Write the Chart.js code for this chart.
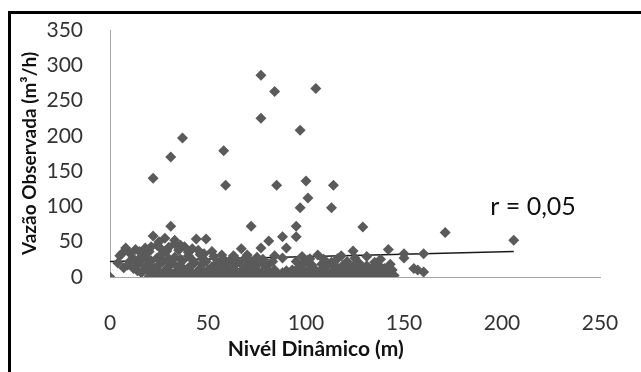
<!DOCTYPE html>
<html>
<head>
<meta charset="utf-8">
<script src="https://cdn.jsdelivr.net/npm/chart.js@4.4.1/dist/chart.umd.min.js"></script>
<style>
  html, body { margin: 0; padding: 0; background: #fff; }
  #wrap { position: relative; width: 641px; height: 372px; overflow: hidden; }
  #frame { position: absolute; left: 8px; top: 11px; width: 640px; height: 370px;
           border-top: 3px solid #000; border-left: 3px solid #000; }
  #chart { position: absolute; left: 0; top: 0; }
</style>
</head>
<body>
<div id="wrap">
  <div id="frame"></div>
  <canvas id="chart" width="641" height="372"></canvas>
</div>
<script>
// Nível dinâmico (m) e vazão observada (m³/h)
const nivel = [
  // pontos altos
  77, 84, 105, 77, 97, 37, 31, 58, 22, 59, 85, 100, 114, 101, 97, 113,
  31, 72, 95, 129, 171, 206,
  // faixa 35-60
  22, 28, 25, 44, 49, 81, 88, 95, 8, 13, 18, 24, 38, 67, 77, 90,
  124, 142, 150, 160, 131, 150, 57, 101, 110, 33, 30, 35, 42, 20, 27,
  10, 15, 21, 26, 29, 33, 36, 40, 45, 48, 52, 17, 6,
  // faixa ~30
  5, 16, 26, 33, 40, 46, 53, 63, 70, 75, 84, 98, 106, 118,
  // faixa ~26
  12, 19, 24, 30, 36, 41, 47, 58, 64, 69, 78, 88, 102, 109, 116, 125, 138,
  // faixa ~20
  4, 10, 15, 21, 27, 32, 37, 43, 49, 55, 61, 66, 72, 78, 83, 95, 99, 113, 121, 127, 135,
  // faixa ~17
  9, 14, 20, 25, 31, 36, 42, 47, 53, 59, 64, 70, 75, 81, 98, 103, 108, 114, 119, 125, 131, 137, 143,
  // faixa ~12
  7, 12, 18, 23, 29, 35, 40, 46, 52, 58, 63, 69, 74, 80, 93, 97, 104, 110, 116, 122, 128, 134, 140, 142, 155, 157,
  // faixa ~9
  14, 19, 24, 29, 34, 39, 45, 50, 56, 61, 67, 73, 78, 84, 90, 95, 101, 108, 114, 120, 126, 132, 138, 144,
  // faixa ~6
  16, 21, 26, 31, 37, 42, 48, 54, 59, 65, 70, 76, 82, 88, 93, 99, 106, 112, 118, 124, 130, 136, 141, 160,
  // faixa ~3
  22, 26, 31, 35, 40, 45, 50, 55, 60, 65, 70, 75, 80, 85, 90, 95, 100, 105, 110, 115, 120, 125, 129, 134, 139, 143,
  // faixa ~1
  0, 20, 24, 28, 33, 38, 43, 47, 52, 57, 62, 67, 72, 77, 82, 87, 92, 97, 102, 107, 112, 117, 122, 127, 131, 137, 142, 145
];
const vazao = [
  286, 263, 267, 225, 208, 197, 170, 179, 140, 130, 130, 136, 130, 112, 98, 98,
  72, 72, 72, 71, 63, 52,
  58, 55, 50, 54, 54, 51, 57, 57, 41, 39, 41, 45, 43, 40, 41, 41,
  37, 39, 33, 33, 29, 27, 31, 24, 22, 47, 42, 38, 40, 36, 33,
  34, 36, 43, 40, 37, 52, 45, 35, 38, 33, 36, 30, 33,
  30, 29, 31, 28, 30, 32, 29, 30, 31, 28, 30, 29, 31, 30,
  26, 25, 27, 26, 25, 27, 26, 25, 26, 27, 25, 27, 26, 25, 26, 27, 25,
  20, 22, 21, 23, 22, 20, 23, 21, 22, 20, 23, 21, 22, 20, 22, 22, 20, 21, 22, 20, 21,
  17, 18, 16, 17, 18, 16, 17, 18, 16, 17, 18, 16, 17, 18, 16, 17, 18, 16, 17, 18, 16, 17, 18,
  13, 12, 14, 13, 12, 14, 13, 12, 14, 13, 12, 14, 13, 12, 10, 13, 12, 14, 13, 12, 14, 13, 12, 13, 12, 10,
  9, 10, 9, 10, 9, 10, 9, 10, 9, 10, 9, 10, 9, 10, 9, 10, 9, 10, 9, 10, 9, 10, 9, 10,
  6, 7, 5, 6, 7, 5, 6, 7, 5, 6, 7, 5, 6, 6, 5, 6, 7, 5, 6, 7, 5, 6, 5, 7,
  3, 4, 3, 4, 3, 4, 3, 4, 3, 4, 3, 4, 3, 4, 3, 4, 3, 4, 3, 4, 3, 4, 3, 4, 3, 4,
  0, 1, 2, 1, 2, 1, 2, 1, 2, 1, 2, 1, 2, 1, 2, 1, 2, 1, 2, 1, 2, 1, 2, 1, 2, 1, 1, 2
];

// linha de tendência
const trendX = [0, 206];
const trendY = [22, 36];

const xTicks = [0, 50, 100, 150, 200, 250];
const yTicks = [0, 50, 100, 150, 200, 250, 300, 350];

const points = nivel.map((x, i) => ({ x: x, y: vazao[i] }));
const trend = trendX.map((x, i) => ({ x: x, y: trendY[i] }));

// textos extra: "r = 0,05" e titulo do eixo x
const extraText = {
  id: 'extraText',
  afterDatasetsDraw(chart) {
    const ctx = chart.ctx;
    const xs = chart.scales.x, ys = chart.scales.y;
    ctx.save();
    ctx.textBaseline = 'middle';
    ctx.font = '25px Lato';
    ctx.fillStyle = '#111';
    ctx.fillText('r = 0,05', xs.getPixelForValue(194), ys.getPixelForValue(99));
    ctx.font = 'bold 21px Lato';
    ctx.textAlign = 'center';
    ctx.fillText('Nivél Dinâmico (m)', xs.getPixelForValue(105), 349);
    ctx.restore();
  }
};

new Chart(document.getElementById('chart'), {
  type: 'scatter',
  data: {
    datasets: [{
      data: points,
      pointStyle: 'rectRot',
      pointRadius: 5.5,
      backgroundColor: '#5a5a5a',
      borderWidth: 0
    }, {
      type: 'line',
      data: trend,
      borderColor: '#1a1a1a',
      borderWidth: 1.5,
      pointRadius: 0,
      fill: false
    }]
  },
  options: {
    responsive: false,
    animation: false,
    layout: { padding: { top: 30, right: 41, bottom: 0, left: 0 } },
    plugins: { legend: { display: false }, tooltip: { enabled: false } },
    scales: {
      x: {
        type: 'linear',
        min: 0, max: 250,
        afterBuildTicks: s => { s.ticks = xTicks.map(v => ({ value: v })); },
        afterFit: s => { s.height = 95; },
        // espaço reservado com tickLength, sem desenhar os traços
        grid: { display: false, drawTicks: true, tickLength: 34 },
        border: { color: '#a6a6a6', width: 1 },
        ticks: { padding: 0, color: '#333', font: { family: 'Lato', size: 21 } },
        title: { display: false }
      },
      y: {
        type: 'linear',
        min: 0, max: 350,
        afterBuildTicks: s => { s.ticks = yTicks.map(v => ({ value: v })); },
        afterFit: s => { s.width = 110; },
        grid: { display: false, drawTicks: true, tickLength: 27 },
        border: { color: '#a6a6a6', width: 1 },
        ticks: { padding: 0, color: '#333', font: { family: 'Lato', size: 21 } },
        title: {
          display: true, text: 'Vazão Observada (m³/h)', color: '#111',
          font: { family: 'Lato', size: 19, weight: 'bold' },
          padding: { top: 18, bottom: 0 }
        }
      }
    }
  },
  plugins: [extraText]
});
</script>
</body>
</html>
